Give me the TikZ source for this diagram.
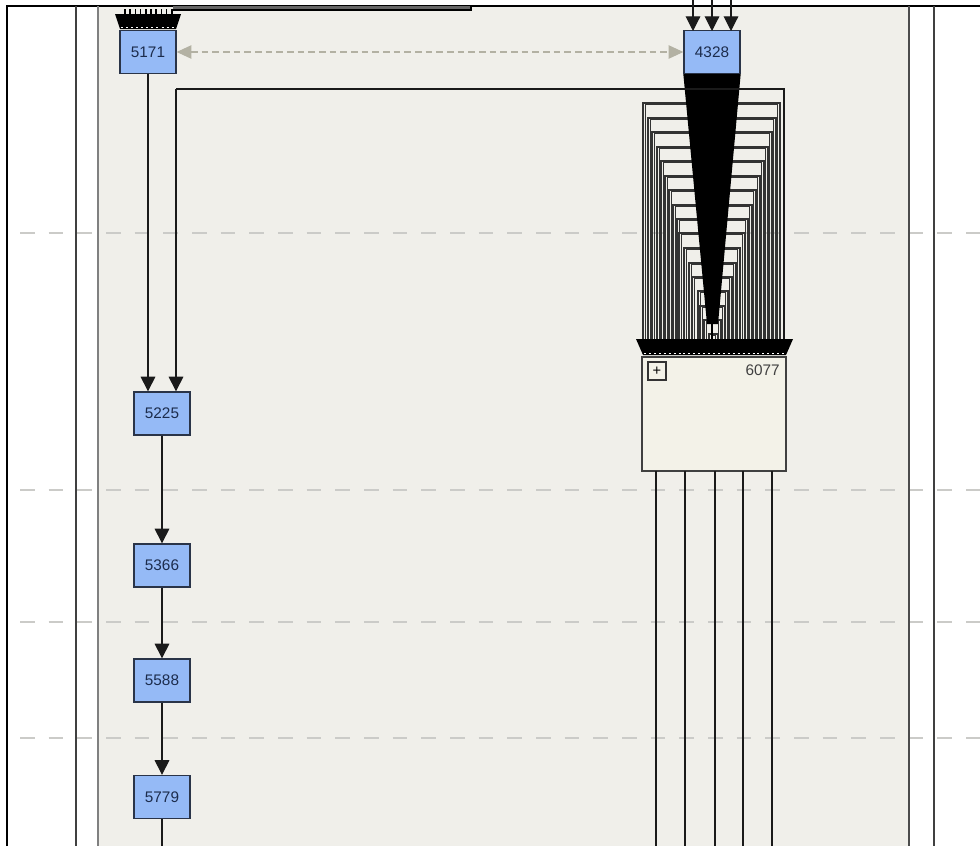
\documentclass[tikz,border=0pt]{standalone}
\usepackage{fontspec}
\setmainfont{Liberation Sans}
\usetikzlibrary{arrows.meta,calc}
\definecolor{panelbg}{HTML}{F0EFEA}
\definecolor{nodeblue}{HTML}{95BAF6}
\definecolor{nodeedge}{HTML}{2A3448}
\definecolor{nodetext}{HTML}{1C2C4C}
\definecolor{grpbg}{HTML}{F3F2E8}
\definecolor{dashgray}{HTML}{CBCBC8}
\definecolor{refgray}{HTML}{B3B1A3}
\definecolor{edgecol}{HTML}{1A1A1A}
\tikzset{
  blk/.style={draw=nodeedge, line width=1pt, fill=nodeblue, text=nodetext,
    minimum width=42pt, minimum height=32.25pt, inner sep=0pt,
    font=\fontsize{11.5}{12}\selectfont},
  grpbox/.style={draw=black!75, line width=1pt, fill=grpbg, inner sep=0pt,
    minimum width=108pt, minimum height=85.5pt},
  ln/.style={draw=edgecol, line width=0.85pt},
  arr/.style={ln, -{Triangle[width=11pt,length=11pt]}},
  lane/.style={draw=dashgray, line width=1.4pt, dash pattern=on 11pt off 10.5pt},
  bracket/.style={draw=black!80, line width=0.85pt},
  refarr/.style={draw=refgray, line width=0.9pt, dash pattern=on 5pt off 3pt,
    {Triangle[width=10pt,length=11pt]}-{Triangle[width=10pt,length=11pt]}}
}
\begin{document}
\begin{tikzpicture}[x=0.75pt,y=-0.75pt]
\useasboundingbox (0,0) rectangle (980,846);
% background and panel
\fill[white] (0,0) rectangle (980,846);
\fill[panelbg] (98,6) rectangle (909,846);
% lane dashes
\foreach \yy in {233,490,622,738} {
  \draw[lane] (20,\yy) -- (980,\yy);
}
% frame lines
\draw[black, line width=1.2pt] (7,846) -- (7,6) -- (980,6);
\draw[black!75, line width=1pt] (76,6) -- (76,846);
\draw[black!50, line width=1.6pt] (98,6) -- (98,846);
\draw[black!70, line width=1.5pt] (909,6) -- (909,846);
\draw[black!75, line width=1.3pt] (934,6) -- (934,846);
% bundle at the top
\fill[black!60] (173,6) rectangle (471,10);
\draw[black, line width=0.8pt] (173,10) -- (471,10) -- (471,6);

% nodes
\node[blk] (n5171) at (148,52) {5171};
\node[blk] (n4328) at (712,52) {4328};
\node[blk] (n5225) at (162,413.5) {5225};
\node[blk] (n5366) at (162,565.5) {5366};
\node[blk] (n5588) at (162,680.5) {5588};
\node[blk] (n5779) at (162,797) {5779};
\node[grpbox] (n6077) at (714,414) {};
\node[draw=black!80, line width=0.9pt, minimum size=13.5pt, inner sep=0pt,
  font=\fontsize{11}{11}\selectfont] (plus) at (657,371) {+};
\node[anchor=east, text=black!75, inner sep=0pt, font=\fontsize{11.5}{12}\selectfont]
  (t6077) at (780,370) {6077};

% fan into 5171
\foreach \xx in {125,130.2,...,173} {
  \draw[black, line width=1.3pt] (\xx,9) -- (\xx,15);
}
\fill[black] (115,14) -- (181,14) -- (176,29) -- (120,29) -- cycle;
\draw[white, line width=0.5pt, dash pattern=on 1.5pt off 2.3pt] (121,27.5) -- (175,27.5);

% arrows into 4328
\foreach \xx in {693,712,731} {
  \draw[arr] (\xx,0) -- (\xx,31);
}

% reference dashed arrow
\draw[refarr] (n5171.east) -- (n4328.west);

% nested brackets from 4328 to 6077
\foreach \yy/\ll/\rr in {103/643/780,118/648/776,132/652/772,147/657/768,161/661/764,
  176/665/760,190/669/756,205/673/752,219/677/748,233/679/745,248/684/740,
  263/689/736,277/692/732,291/698/728,306/700/725,320/704/721,334/709/718} {
  \draw[bracket] (\ll,340) -- (\ll,\yy) -- (\rr,\yy) -- (\rr,340);
  \draw[bracket] (\ll+2.2,340) -- (\ll+2.2,\yy+1.5) -- (\rr-2.2,\yy+1.5) -- (\rr-2.2,340);
}
% wedge of edges below 4328
\fill[black] (n4328.south west) -- (n4328.south east) -- (718,324) -- (707,324) -- cycle;
\draw[black, line width=1pt] (712,320) -- (712,340);

% long edge: 6077 side to 5225
\coordinate (c176) at (176,89);
\draw[ln] (784,340) -- (784,89) -- (c176);
\draw[arr] (c176) -- (c176 |- n5225.north);

% fan into 6077
\fill[black] (636,339) -- (793,339) -- (786,355) -- (643,355) -- cycle;
\draw[white, line width=0.5pt, dash pattern=on 1.5pt off 2.2pt] (644,353.5) -- (785,353.5);

% chain on the left
\draw[arr] (n5171.south) -- (n5171.south |- n5225.north);
\draw[arr] (n5225) -- (n5366);
\draw[arr] (n5366) -- (n5588);
\draw[arr] (n5588) -- (n5779);
\draw[ln] (n5779.south) -- (162,846);

% edges leaving 6077
\foreach \xx in {656,685,715,743,772} {
  \draw[ln] (\xx,471) -- (\xx,846);
}
\end{tikzpicture}
\end{document}
